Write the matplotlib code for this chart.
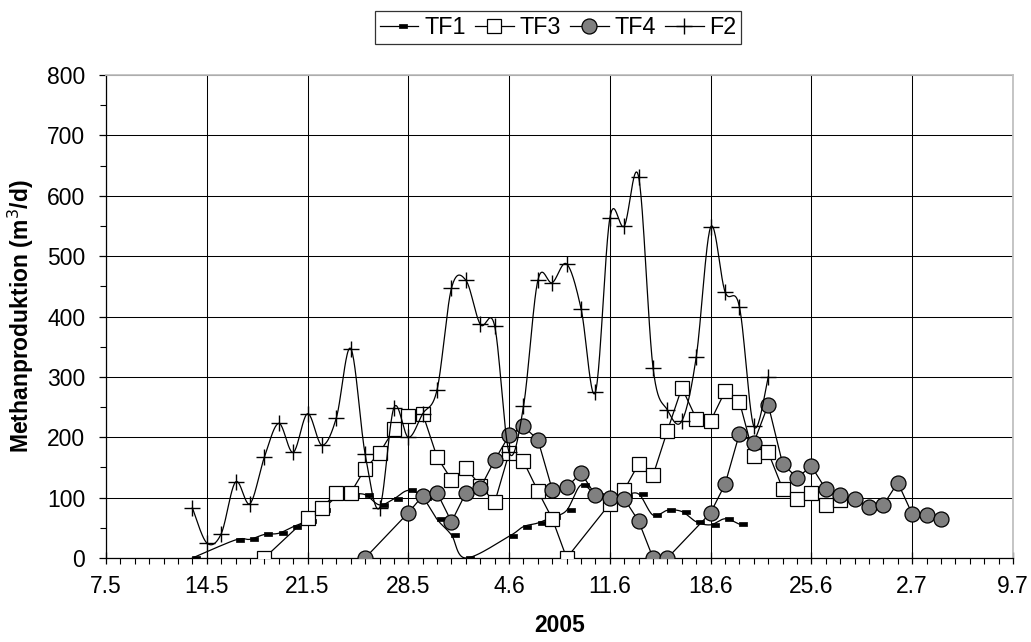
import numpy as np
import matplotlib
matplotlib.use("Agg")
import matplotlib.pyplot as plt
from matplotlib.path import Path
from matplotlib.lines import Line2D

plt.rcParams['font.family'] = ['Liberation Sans', 'DejaVu Sans']

# ---- data (x = days after 7.5.2005) ----
tick_labels = ["7.5", "14.5", "21.5", "28.5", "4.6", "11.6", "18.6", "25.6", "2.7", "9.7"]

tf1_days = [6, 9, 10, 11, 12, 13, 14, 15, 16, 17, 18, 19, 20, 21, 22, 23, 24, 25,
            28, 29, 30, 31, 32, 33, 34, 35, 36, 37, 38, 39, 40, 41, 42, 43, 44]
tf1_vals = [0, 30, 31, 39, 41, 52, 62, 80, 100, 105, 105, 88, 98, 112, 100, 64, 38, 0,
            36, 52, 58, 68, 79, 121, 105, 100, 103, 106, 71, 79, 77, 60, 55, 65, 56]

tf3_days = [11, 14, 15, 16, 17, 18, 19, 20, 21, 22, 23, 24, 25, 26, 27, 28, 29, 30, 31, 32,
            35, 36, 37, 38, 39, 40, 41, 42, 43, 44, 45, 46, 47, 48, 49, 50, 51]
tf3_vals = [0, 67, 83, 108, 108, 148, 174, 213, 236, 239, 167, 130, 149, 120, 92, 174, 160, 111, 65, 0,
            90, 113, 156, 137, 211, 282, 231, 227, 276, 259, 169, 175, 115, 97, 108, 88, 96]

tf4_days = [18, 21, 22, 23, 24, 25, 26, 27, 28, 29, 30, 31, 32, 33, 34, 35, 36, 37, 38, 39,
            42, 43, 44, 45, 46, 47, 48, 49, 50, 51, 52, 53, 54, 55, 56, 57, 58]
tf4_vals = [0, 75, 103, 108, 60, 108, 116, 162, 203, 218, 196, 113, 117, 141, 104, 99, 98, 61, 0, 0,
            75, 122, 206, 191, 254, 156, 133, 152, 114, 105, 97, 84, 88, 125, 73, 72, 65]

f2_days = list(range(6, 47))
f2_vals = [83, 25, 40, 126, 90, 167, 223, 175, 239, 187, 232, 347, 172, 83, 249,
           200, 239, 279, 447, 460, 387, 384, 175, 251, 460, 456, 487, 413, 275, 563,
           550, 631, 315, 245, 227, 333, 548, 441, 416, 218, 300]


def smooth(xs, ys, n=24):
    P = np.column_stack([np.asarray(xs, float), np.asarray(ys, float)])
    m = len(P)
    out = [P[0]]
    t = np.linspace(0, 1, n + 1)[1:][:, None]
    for i in range(m - 1):
        p0 = P[i - 1] if i > 0 else P[i]
        p3 = P[i + 2] if i + 2 < m else P[i + 1]
        b0, b3 = P[i], P[i + 1]
        b1 = b0 + (b3 - p0) / 6.0
        b2 = b3 - (p3 - b0) / 6.0
        seg = ((1 - t) ** 3) * b0 + 3 * ((1 - t) ** 2) * t * b1 + 3 * (1 - t) * t ** 2 * b2 + t ** 3 * b3
        out.extend(seg)
    out = np.array(out)
    return out[:, 0], out[:, 1]


dash_marker = Path([(0, -0.19), (1, -0.19), (1, 0.19), (0, 0.19), (0, -0.19)],
                   [Path.MOVETO, Path.LINETO, Path.LINETO, Path.LINETO, Path.CLOSEPOLY])

FS = 16.5

fig = plt.figure(figsize=(10.31, 6.42), dpi=100)
ax = fig.add_axes([0.1028, 0.1308, 0.8797, 0.7524])

lw = 0.9
# TF1 (smoothed, dash markers)
sx, sy = smooth(tf1_days, tf1_vals)
ax.plot(sx, sy, color='black', lw=lw, zorder=3)
ax.plot(tf1_days, tf1_vals, ls='none', marker=dash_marker, ms=11.5, mfc='black', mec='black',
        mew=0.5, zorder=3)
# TF3 (straight, open squares)
ax.plot(tf3_days, tf3_vals, color='black', lw=lw, marker='s', ms=10.5, mfc='white', mec='black',
        mew=0.9, zorder=4)
# TF4 (straight, grey circles)
ax.plot(tf4_days, tf4_vals, color='black', lw=lw, marker='o', ms=10.8, mfc='#808080', mec='black',
        mew=0.9, zorder=5)
# F2 (smoothed, plus markers)
sx, sy = smooth(f2_days, f2_vals)
ax.plot(sx, sy, color='black', lw=lw, zorder=6)
ax.plot(f2_days, f2_vals, ls='none', marker='+', ms=12, mec='black', mew=1.0, zorder=6)

ax.set_xlim(0, 63)
ax.set_ylim(0, 800)
ax.set_xticks(np.arange(0, 64, 7))
ax.set_xticklabels(tick_labels)
ax.set_xticks(np.arange(0, 64, 1), minor=True)
ax.set_yticks(np.arange(0, 801, 100))
ax.set_yticks(np.arange(0, 801, 50), minor=True)

ax.grid(True, which='major', color='black', lw=0.75)
ax.set_axisbelow(True)

for s in ['top', 'right']:
    ax.spines[s].set_color('#c0c0c0')
    ax.spines[s].set_linewidth(1.3)
for s in ['left', 'bottom']:
    ax.spines[s].set_color('black')
    ax.spines[s].set_linewidth(0.9)

ax.tick_params(axis='both', which='major', direction='inout', length=8, width=0.9,
               labelsize=FS, pad=8)
ax.tick_params(axis='both', which='minor', direction='out', length=4, width=0.8)
ax.tick_params(axis='y', which='major', direction='out', length=5, pad=10)

ax.set_ylabel('Methanproduktion (m$^3$/d)', fontsize=FS, fontweight='bold', labelpad=8)
ax.set_xlabel('2005', fontsize=FS, fontweight='bold', labelpad=12)

handles = [
    Line2D([], [], color='black', lw=lw, marker=dash_marker, ms=11.5, mfc='black', mec='black', mew=0.5),
    Line2D([], [], color='black', lw=lw, marker='s', ms=10.5, mfc='white', mec='black', mew=0.9),
    Line2D([], [], color='black', lw=lw, marker='o', ms=10.8, mfc='#808080', mec='black', mew=0.9),
    Line2D([], [], color='black', lw=lw, marker='+', ms=12, mec='black', mew=1.0),
]
leg = fig.legend(handles, ['TF1', 'TF3', 'TF4', 'F2'], loc='center', bbox_to_anchor=(0.5415, 0.957),
                 ncol=4, fontsize=16.8, frameon=True, fancybox=False, shadow=False,
                 handlelength=1.65, handletextpad=0.25, columnspacing=0.4, borderpad=0.2,
                 borderaxespad=0.0)
leg.get_frame().set_edgecolor('black')
leg.get_frame().set_linewidth(0.9)

fig.savefig('out.png', dpi=100)
